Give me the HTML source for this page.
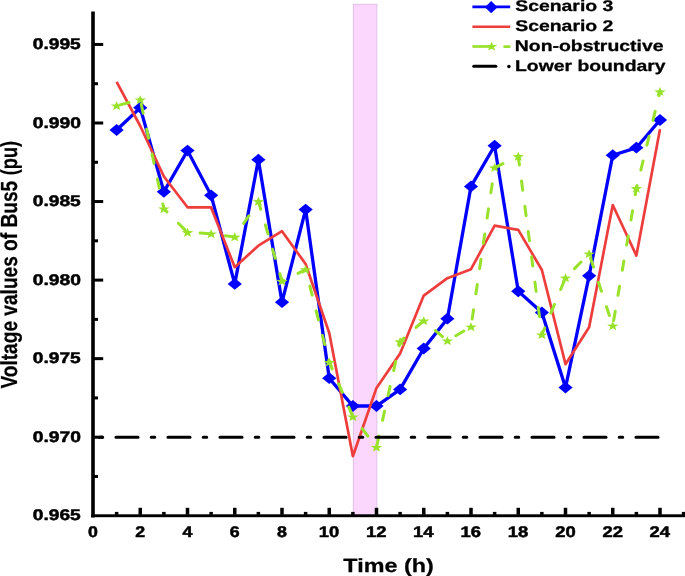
<!DOCTYPE html><html><head><meta charset="utf-8"><style>html,body{margin:0;padding:0;background:#fff;overflow:hidden}svg{display:block;will-change:transform}text{font-family:"Liberation Sans",sans-serif;font-weight:bold;stroke:#000;stroke-width:0.5px;stroke-linejoin:round;text-rendering:geometricPrecision}</style></head><body>
<svg width="685" height="576" viewBox="0 0 685 576">
<rect width="685" height="576" fill="#fff"/>
<rect x="353.3" y="4.3" width="23.6" height="511" fill="#FBD7FE" stroke="#DDBDE3" stroke-width="0.9"/>
<polyline points="116.62,130.00 140.25,107.70 163.88,191.80 187.50,150.60 211.12,195.30 234.75,283.90 258.38,159.70 282.00,302.20 305.62,209.60 329.25,378.20 352.88,406.00 376.50,406.00 400.12,389.40 423.75,348.50 447.38,318.70 471.00,186.40 494.62,145.70 518.25,291.25 541.88,312.50 565.50,387.60 589.12,275.80 612.75,155.20 636.38,147.70 660.00,120.00" fill="none" stroke="#0000FF" stroke-width="3.3" stroke-linejoin="miter" stroke-miterlimit="3"/>
<g fill="#0000FF"><path d="M109.53,130.00L116.62,124.10L123.72,130.00L116.62,135.90Z"/><path d="M133.15,107.70L140.25,101.80L147.35,107.70L140.25,113.60Z"/><path d="M156.78,191.80L163.88,185.90L170.97,191.80L163.88,197.70Z"/><path d="M180.40,150.60L187.50,144.70L194.60,150.60L187.50,156.50Z"/><path d="M204.03,195.30L211.12,189.40L218.22,195.30L211.12,201.20Z"/><path d="M227.65,283.90L234.75,278.00L241.85,283.90L234.75,289.80Z"/><path d="M251.28,159.70L258.38,153.80L265.48,159.70L258.38,165.60Z"/><path d="M274.90,302.20L282.00,296.30L289.10,302.20L282.00,308.10Z"/><path d="M298.52,209.60L305.62,203.70L312.73,209.60L305.62,215.50Z"/><path d="M322.15,378.20L329.25,372.30L336.35,378.20L329.25,384.10Z"/><path d="M345.77,406.00L352.88,400.10L359.98,406.00L352.88,411.90Z"/><path d="M369.40,406.00L376.50,400.10L383.60,406.00L376.50,411.90Z"/><path d="M393.02,389.40L400.12,383.50L407.23,389.40L400.12,395.30Z"/><path d="M416.65,348.50L423.75,342.60L430.85,348.50L423.75,354.40Z"/><path d="M440.27,318.70L447.38,312.80L454.48,318.70L447.38,324.60Z"/><path d="M463.90,186.40L471.00,180.50L478.10,186.40L471.00,192.30Z"/><path d="M487.52,145.70L494.62,139.80L501.73,145.70L494.62,151.60Z"/><path d="M511.15,291.25L518.25,285.35L525.35,291.25L518.25,297.15Z"/><path d="M534.77,312.50L541.88,306.60L548.98,312.50L541.88,318.40Z"/><path d="M558.40,387.60L565.50,381.70L572.60,387.60L565.50,393.50Z"/><path d="M582.02,275.80L589.12,269.90L596.23,275.80L589.12,281.70Z"/><path d="M605.65,155.20L612.75,149.30L619.85,155.20L612.75,161.10Z"/><path d="M629.27,147.70L636.38,141.80L643.48,147.70L636.38,153.60Z"/><path d="M652.90,120.00L660.00,114.10L667.10,120.00L660.00,125.90Z"/></g>
<polyline points="116.62,81.80 140.25,126.00 163.88,176.50 187.50,207.30 211.12,207.40 234.75,267.20 258.38,245.70 282.00,231.20 305.62,264.00 329.25,333.00 352.88,456.25 376.50,387.90 400.12,353.50 423.75,295.60 447.38,278.20 471.00,269.20 494.62,225.70 518.25,229.90 541.88,270.00 565.50,364.20 589.12,327.20 612.75,205.00 636.38,255.60 660.00,129.20" fill="none" stroke="#EE3D3D" stroke-width="2.7" stroke-linejoin="round"/>
<polyline points="116.62,105.70 140.25,99.70 163.88,208.75 187.50,232.40 211.12,233.75 234.75,236.90 258.38,201.40 282.00,281.10 305.62,269.60 329.25,362.20 352.88,416.70 376.50,447.20 400.12,341.60 423.75,320.70 447.38,340.70 471.00,326.80 494.62,167.60 518.25,156.40 541.88,334.70 565.50,277.80 589.12,253.80 612.75,325.80 636.38,188.40 660.00,91.60" fill="none" stroke="#99E22C" stroke-width="3" stroke-dasharray="9.3 16.2" stroke-dashoffset="22" stroke-linecap="round" stroke-linejoin="round"/>
<g fill="#99E22C"><path d="M116.62,101.15L118.13,104.42L122.42,104.57L119.06,106.74L120.20,110.10L116.62,108.18L113.05,110.10L114.19,106.74L110.83,104.57L115.12,104.42Z"/><path d="M140.25,95.15L141.75,98.42L146.04,98.57L142.68,100.74L143.83,104.10L140.25,102.18L136.67,104.10L137.82,100.74L134.46,98.57L138.75,98.42Z"/><path d="M163.88,204.20L165.38,207.47L169.67,207.62L166.31,209.79L167.45,213.15L163.88,211.23L160.30,213.15L161.44,209.79L158.08,207.62L162.37,207.47Z"/><path d="M187.50,227.85L189.00,231.12L193.29,231.27L189.93,233.44L191.08,236.80L187.50,234.88L183.92,236.80L185.07,233.44L181.71,231.27L186.00,231.12Z"/><path d="M211.12,229.20L212.63,232.47L216.92,232.62L213.56,234.79L214.70,238.15L211.12,236.23L207.55,238.15L208.69,234.79L205.33,232.62L209.62,232.47Z"/><path d="M234.75,232.35L236.25,235.62L240.54,235.77L237.18,237.94L238.33,241.30L234.75,239.38L231.17,241.30L232.32,237.94L228.96,235.77L233.25,235.62Z"/><path d="M258.38,196.85L259.88,200.12L264.17,200.27L260.81,202.44L261.95,205.80L258.38,203.88L254.80,205.80L255.94,202.44L252.58,200.27L256.87,200.12Z"/><path d="M282.00,276.55L283.50,279.82L287.79,279.97L284.43,282.14L285.58,285.50L282.00,283.58L278.42,285.50L279.57,282.14L276.21,279.97L280.50,279.82Z"/><path d="M305.62,265.05L307.13,268.32L311.42,268.47L308.06,270.64L309.20,274.00L305.62,272.08L302.05,274.00L303.19,270.64L299.83,268.47L304.12,268.32Z"/><path d="M329.25,357.65L330.75,360.92L335.04,361.07L331.68,363.24L332.83,366.60L329.25,364.68L325.67,366.60L326.82,363.24L323.46,361.07L327.75,360.92Z"/><path d="M352.88,412.15L354.38,415.42L358.67,415.57L355.31,417.74L356.45,421.10L352.88,419.18L349.30,421.10L350.44,417.74L347.08,415.57L351.37,415.42Z"/><path d="M376.50,442.65L378.00,445.92L382.29,446.07L378.93,448.24L380.08,451.60L376.50,449.68L372.92,451.60L374.07,448.24L370.71,446.07L375.00,445.92Z"/><path d="M400.12,337.05L401.63,340.32L405.92,340.47L402.56,342.64L403.70,346.00L400.12,344.08L396.55,346.00L397.69,342.64L394.33,340.47L398.62,340.32Z"/><path d="M423.75,316.15L425.25,319.42L429.54,319.57L426.18,321.74L427.33,325.10L423.75,323.18L420.17,325.10L421.32,321.74L417.96,319.57L422.25,319.42Z"/><path d="M447.38,336.15L448.88,339.42L453.17,339.57L449.81,341.74L450.95,345.10L447.38,343.18L443.80,345.10L444.94,341.74L441.58,339.57L445.87,339.42Z"/><path d="M471.00,322.25L472.50,325.52L476.79,325.67L473.43,327.84L474.58,331.20L471.00,329.28L467.42,331.20L468.57,327.84L465.21,325.67L469.50,325.52Z"/><path d="M494.62,163.05L496.13,166.32L500.42,166.47L497.06,168.64L498.20,172.00L494.62,170.08L491.05,172.00L492.19,168.64L488.83,166.47L493.12,166.32Z"/><path d="M518.25,151.85L519.75,155.12L524.04,155.27L520.68,157.44L521.83,160.80L518.25,158.88L514.67,160.80L515.82,157.44L512.46,155.27L516.75,155.12Z"/><path d="M541.88,330.15L543.38,333.42L547.67,333.57L544.31,335.74L545.45,339.10L541.88,337.18L538.30,339.10L539.44,335.74L536.08,333.57L540.37,333.42Z"/><path d="M565.50,273.25L567.00,276.52L571.29,276.67L567.93,278.84L569.08,282.20L565.50,280.28L561.92,282.20L563.07,278.84L559.71,276.67L564.00,276.52Z"/><path d="M589.12,249.25L590.63,252.52L594.92,252.67L591.56,254.84L592.70,258.20L589.12,256.28L585.55,258.20L586.69,254.84L583.33,252.67L587.62,252.52Z"/><path d="M612.75,321.25L614.25,324.52L618.54,324.67L615.18,326.84L616.33,330.20L612.75,328.28L609.17,330.20L610.32,326.84L606.96,324.67L611.25,324.52Z"/><path d="M636.38,183.85L637.88,187.12L642.17,187.27L638.81,189.44L639.95,192.80L636.38,190.88L632.80,192.80L633.94,189.44L630.58,187.27L634.87,187.12Z"/><path d="M660.00,87.05L661.50,90.32L665.79,90.47L662.43,92.64L663.58,96.00L660.00,94.08L656.42,96.00L657.57,92.64L654.21,90.47L658.50,90.32Z"/></g>
<line x1="93" y1="437.2" x2="660" y2="437.2" stroke="#000" stroke-width="3.1" stroke-linecap="round" stroke-dasharray="22 13.3 3.4 13.3" stroke-dashoffset="29"/>
<g fill="#000">
<rect x="91.2" y="11.5" width="3.6" height="506"/>
<rect x="91.2" y="514.3" width="593.8" height="2.9"/>
<rect x="94" y="435.70" width="9.2" height="3"/>
<rect x="94" y="357.15" width="9.2" height="3"/>
<rect x="94" y="278.60" width="9.2" height="3"/>
<rect x="94" y="200.05" width="9.2" height="3"/>
<rect x="94" y="121.50" width="9.2" height="3"/>
<rect x="94" y="42.95" width="9.2" height="3"/>
<rect x="94" y="474.97" width="4" height="3"/>
<rect x="94" y="396.42" width="4" height="3"/>
<rect x="94" y="317.87" width="4" height="3"/>
<rect x="94" y="239.32" width="4" height="3"/>
<rect x="94" y="160.77" width="4" height="3"/>
<rect x="94" y="82.22" width="4" height="3"/>
<rect x="114.88" y="511.9" width="3.5" height="3"/>
<rect x="138.50" y="507.8" width="3.5" height="7"/>
<rect x="162.12" y="511.9" width="3.5" height="3"/>
<rect x="185.75" y="507.8" width="3.5" height="7"/>
<rect x="209.38" y="511.9" width="3.5" height="3"/>
<rect x="233.00" y="507.8" width="3.5" height="7"/>
<rect x="256.62" y="511.9" width="3.5" height="3"/>
<rect x="280.25" y="507.8" width="3.5" height="7"/>
<rect x="303.88" y="511.9" width="3.5" height="3"/>
<rect x="327.50" y="507.8" width="3.5" height="7"/>
<rect x="351.12" y="511.9" width="3.5" height="3"/>
<rect x="374.75" y="507.8" width="3.5" height="7"/>
<rect x="398.38" y="511.9" width="3.5" height="3"/>
<rect x="422.00" y="507.8" width="3.5" height="7"/>
<rect x="445.62" y="511.9" width="3.5" height="3"/>
<rect x="469.25" y="507.8" width="3.5" height="7"/>
<rect x="492.88" y="511.9" width="3.5" height="3"/>
<rect x="516.50" y="507.8" width="3.5" height="7"/>
<rect x="540.12" y="511.9" width="3.5" height="3"/>
<rect x="563.75" y="507.8" width="3.5" height="7"/>
<rect x="587.38" y="511.9" width="3.5" height="3"/>
<rect x="611.00" y="507.8" width="3.5" height="7"/>
<rect x="634.62" y="511.9" width="3.5" height="3"/>
<rect x="658.25" y="507.8" width="3.5" height="7"/>
<rect x="681.88" y="511.9" width="3.5" height="3"/>
</g>
<text transform="translate(32.73,520.45) scale(1.2459,1)" font-size="15.4" fill="#000">0.965</text>
<text transform="translate(32.73,441.90) scale(1.2526,1)" font-size="15.4" fill="#000">0.970</text>
<text transform="translate(32.73,363.35) scale(1.2459,1)" font-size="15.4" fill="#000">0.975</text>
<text transform="translate(32.73,284.80) scale(1.2526,1)" font-size="15.4" fill="#000">0.980</text>
<text transform="translate(32.73,206.25) scale(1.2459,1)" font-size="15.4" fill="#000">0.985</text>
<text transform="translate(32.73,127.70) scale(1.2526,1)" font-size="15.4" fill="#000">0.990</text>
<text transform="translate(32.73,49.15) scale(1.2459,1)" font-size="15.4" fill="#000">0.995</text>
<text transform="translate(88.07,537.30) scale(1.1530,1)" font-size="15.4" fill="#000">0</text>
<text transform="translate(135.35,537.30) scale(1.1540,1)" font-size="15.4" fill="#000">2</text>
<text transform="translate(182.43,537.30) scale(1.1623,1)" font-size="15.4" fill="#000">4</text>
<text transform="translate(229.80,537.30) scale(1.1543,1)" font-size="15.4" fill="#000">6</text>
<text transform="translate(277.04,537.30) scale(1.1560,1)" font-size="15.4" fill="#000">8</text>
<text transform="translate(318.80,537.30) scale(1.1963,1)" font-size="15.4" fill="#000">10</text>
<text transform="translate(366.04,537.30) scale(1.1964,1)" font-size="15.4" fill="#000">12</text>
<text transform="translate(412.96,537.30) scale(1.1977,1)" font-size="15.4" fill="#000">14</text>
<text transform="translate(460.51,537.30) scale(1.1965,1)" font-size="15.4" fill="#000">16</text>
<text transform="translate(507.71,537.30) scale(1.1967,1)" font-size="15.4" fill="#000">18</text>
<text transform="translate(555.30,537.30) scale(1.1974,1)" font-size="15.4" fill="#000">20</text>
<text transform="translate(602.54,537.30) scale(1.1974,1)" font-size="15.4" fill="#000">22</text>
<text transform="translate(649.46,537.30) scale(1.1987,1)" font-size="15.4" fill="#000">24</text>
<text transform="translate(343.34,571.80) scale(1.2230,1)" font-size="19.1" fill="#000" style="stroke-width:0.25px">Time (h)</text>
<text transform="translate(16.8,388.53) rotate(-90) scale(1.0110,1.23)" font-size="18.9" style="stroke-width:0.2px">Voltage values of Bus5</text>
<text transform="translate(16.8,175.21) rotate(-90) scale(0.9617,1.23)" font-size="18.9" style="stroke-width:0.2px">(pu)</text>
<line x1="472.4" y1="6.9" x2="510.2" y2="6.9" stroke="#0000FF" stroke-width="2.6"/>
<g fill="#0000FF"><path d="M484.90,7.20L491.20,1.10L497.50,7.20L491.20,13.30Z"/></g>
<line x1="472.4" y1="26.7" x2="510.2" y2="26.7" stroke="#EE3D3D" stroke-width="2.6"/>
<line x1="472.4" y1="46.5" x2="489" y2="46.5" stroke="#99E22C" stroke-width="2.7"/>
<line x1="504.6" y1="46.7" x2="509.3" y2="46.7" stroke="#99E22C" stroke-width="2.7" stroke-linecap="round"/>
<g fill="#99E22C"><path d="M491.60,41.65L493.10,44.92L497.39,45.07L494.03,47.24L495.18,50.60L491.60,48.68L488.02,50.60L489.17,47.24L485.81,45.07L490.10,44.92Z"/></g>
<line x1="473.8" y1="66.3" x2="495.8" y2="66.3" stroke="#000" stroke-width="3.1" stroke-linecap="round"/>
<circle cx="508.9" cy="66.4" r="1.75" fill="#000"/>
<text transform="translate(515.24,11.40) scale(1.2508,1)" font-size="15.5" fill="#000" style="stroke-width:0.3px">Scenario 3</text>
<text transform="translate(515.24,31.10) scale(1.2518,1)" font-size="15.5" fill="#000" style="stroke-width:0.3px">Scenario 2</text>
<text transform="translate(514.80,50.50) scale(1.2509,1)" font-size="15.5" fill="#000" style="stroke-width:0.3px">Non-obstructive</text>
<text transform="translate(515.00,70.80) scale(1.2491,1)" font-size="15.5" fill="#000" style="stroke-width:0.3px">Lower boundary</text>
</svg></body></html>
